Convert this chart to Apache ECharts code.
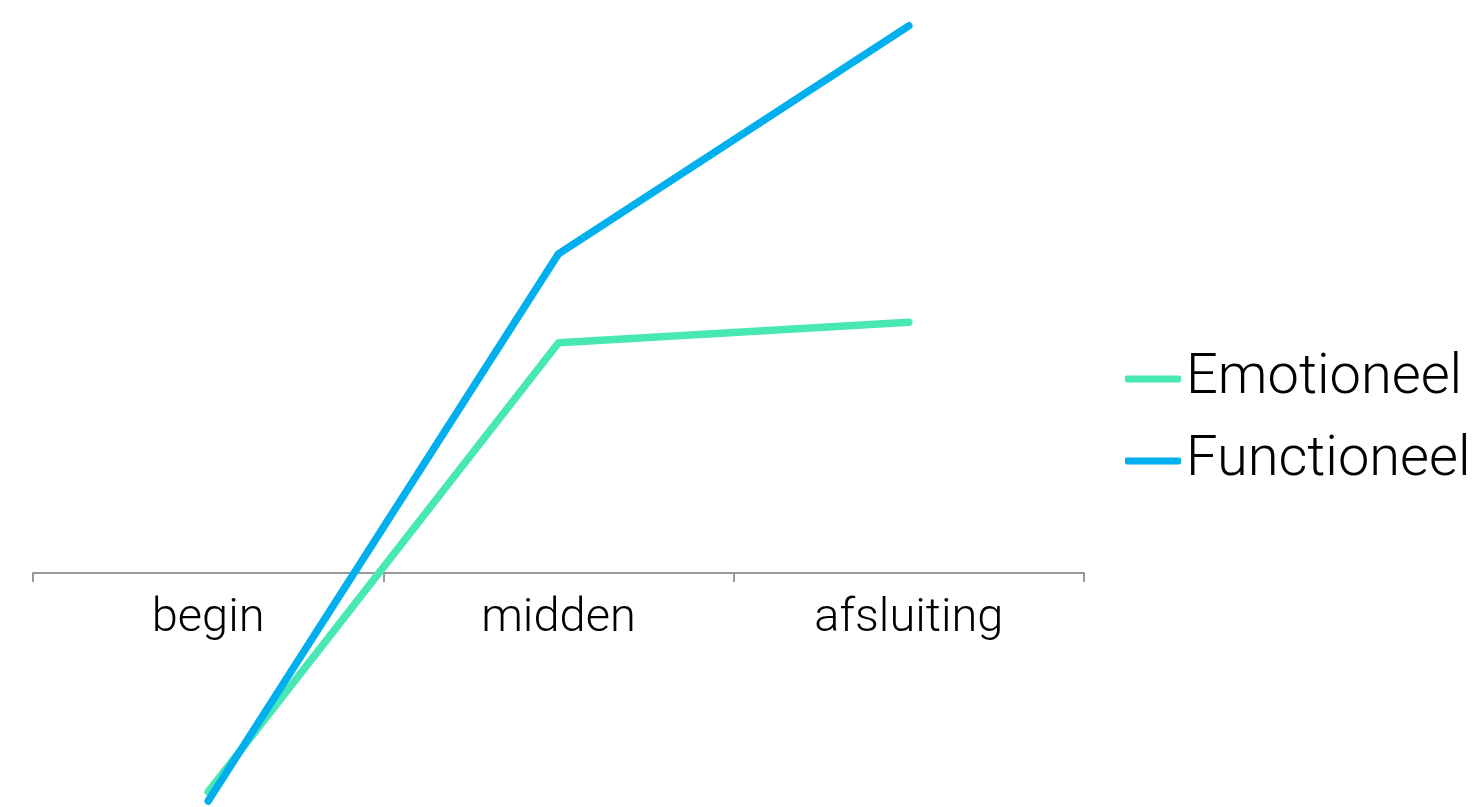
<!DOCTYPE html>
<html>
<head>
<meta charset="utf-8">
<script src="https://cdn.jsdelivr.net/npm/echarts@6/dist/echarts.min.js"></script>
<style>
  html, body { margin: 0; padding: 0; background: #fff; }
  #chart { width: 1481px; height: 807px; }
</style>
</head>
<body>
<div id="chart"></div>
<script>
// Phases of the conversation
const categories = ['begin', 'midden', 'afsluiting'];
// Scores per phase
const emotioneel = [-0.96, 1.01, 1.10];
const functioneel = [-1.0, 1.40, 2.40];

const chart = echarts.init(document.getElementById('chart'));
const font = 'Roboto';

chart.setOption({
  animation: false,
  // the grid ends at the zero line; negative values run below it
  grid: { left: 33, top: 3, width: 1051, height: 570, containLabel: false, outerBoundsMode: 'none' },
  legend: {
    orient: 'vertical',
    left: 1125,
    top: 351,
    padding: 0,
    itemWidth: 56,
    itemHeight: 7,
    itemGap: 26,
    icon: 'roundRect',
    textStyle: { fontFamily: font, fontWeight: 300, fontSize: 56, color: '#000' },
    data: ['Emotioneel', 'Functioneel']
  },
  xAxis: {
    type: 'category',
    data: categories,
    position: 'bottom',
    axisLine: { onZero: false, lineStyle: { color: '#999', width: 2 } },
    axisTick: { show: true, length: 9, lineStyle: { color: '#999', width: 2 } },
    axisLabel: { fontFamily: font, fontWeight: 300, fontSize: 47, color: '#000', margin: 23 }
  },
  yAxis: {
    type: 'value',
    min: 0,
    max: 2.5,
    show: false,
    splitLine: { show: false }
  },
  series: [
    {
      name: 'Emotioneel',
      type: 'line',
      data: emotioneel,
      clip: false,
      showSymbol: false,
      symbol: 'none',
      color: '#48E8B4',
      lineStyle: { width: 7.5, cap: 'round', join: 'round' }
    },
    {
      name: 'Functioneel',
      type: 'line',
      data: functioneel,
      clip: false,
      showSymbol: false,
      symbol: 'none',
      color: '#00B0EE',
      lineStyle: { width: 7.5, cap: 'round', join: 'round' }
    }
  ]
});
</script>
</body>
</html>
